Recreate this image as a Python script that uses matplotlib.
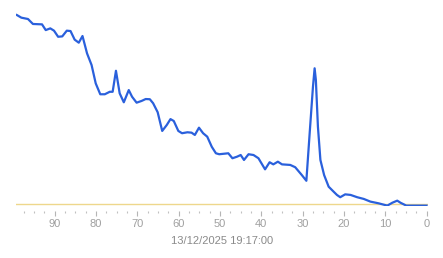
import matplotlib
matplotlib.use("Agg")
import matplotlib.pyplot as plt
from matplotlib.ticker import MultipleLocator

# Data (x = minutes ago, y = relative level)
x_vals = [99.2, 98.1, 96.5, 95.3, 93.1, 92.2, 91.1, 90.2, 89.2, 88.2, 87.1, 86.2,
          85.2, 84.2, 83.3, 82.2, 81.1, 80.1, 79.0, 77.9, 76.7, 76.0, 75.2, 74.3,
          73.3, 72.1, 71.3, 70.2, 69.0, 68.0, 67.0, 66.2, 65.1, 64.0, 62.9, 62.0,
          61.2, 60.1, 59.2, 57.9, 56.9, 56.1, 55.1, 54.1, 53.1, 52.0, 51.0, 50.2,
          48.0, 47.0, 45.9, 45.0, 44.2, 43.1, 41.9, 40.7, 39.1, 38.0, 37.1, 36.0,
          35.0, 33.0, 31.8, 30.2, 29.1, 28.3, 27.5, 27.1, 26.8, 26.3, 25.7, 24.8,
          23.7, 22.5, 21.7, 20.9, 19.7, 18.4, 16.8, 15.2, 13.6, 11.6, 9.5, 8.3,
          7.1, 6.3, 4.9, 0.0]
y_vals = [100.0, 98.6, 97.9, 95.3, 95.1, 92.1, 93.0, 91.8, 88.6, 88.8, 91.8, 91.6,
          87.1, 85.5, 89.0, 79.9, 73.8, 64.2, 58.5, 58.5, 59.8, 59.8, 70.8, 59.0,
          54.3, 60.7, 57.2, 54.1, 55.0, 56.0, 55.9, 53.8, 49.1, 39.3, 42.4, 45.5,
          44.5, 39.3, 38.1, 38.6, 38.4, 37.2, 41.0, 38.1, 36.3, 31.0, 27.6, 27.1,
          27.6, 25.0, 25.8, 26.7, 24.1, 27.1, 26.7, 25.0, 19.2, 22.9, 21.8, 23.2,
          21.8, 21.5, 20.3, 16.2, 13.2, 38.1, 62.5, 72.1, 66.0, 41.5, 24.1, 16.2,
          10.1, 7.5, 5.8, 4.6, 6.1, 5.8, 4.6, 3.7, 2.3, 1.4, 0.2, 1.7,
          2.8, 1.7, 0.2, 0.2]
threshold = 0.9
major_ticks = [90, 80, 70, 60, 50, 40, 30, 20, 10, 0]
timestamp = "13/12/2025 19:17:00"

W, H = 443, 258
fig = plt.figure(figsize=(W / 100, H / 100), dpi=100)
plt.rcParams['font.family'] = ['Liberation Sans', 'DejaVu Sans']

top_px, bot_px = 10, 206
ax = fig.add_axes([16 / W, 1 - bot_px / H, (428 - 16) / W, (bot_px - top_px) / H])
ax.plot(x_vals, y_vals, color='#2a60dc', lw=1.6, solid_joinstyle='round', zorder=3)
ax.axhline(threshold, color='#eed78c', lw=1.0, zorder=2)

ax.set_xlim(99.4, -0.35)
ax.set_ylim(0, (206 - top_px) / 1.91)

for s in ax.spines.values():
    s.set_visible(False)
ax.spines['bottom'].set_position(('outward', 3.6))
ax.set_yticks([])
ax.set_xticks(major_ticks)
ax.set_xticklabels([str(t) for t in major_ticks])
ax.xaxis.set_minor_locator(MultipleLocator(2.5))
ax.tick_params(axis='x', which='major', length=3.8, width=0.8, color='#b5b5b5',
               labelcolor='#a0a0a0', labelsize=8, pad=2.2)
ax.tick_params(axis='x', which='minor', length=1.3, width=0.8, color='#c0c0c0')
ax.set_xlabel(timestamp, color='#8a8a8a', fontsize=8, labelpad=5)

fig.savefig('out.png', dpi=100, facecolor='white')
